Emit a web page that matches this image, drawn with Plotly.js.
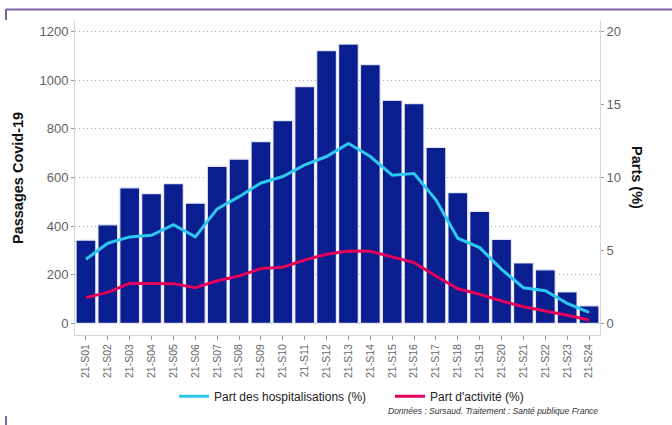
<!DOCTYPE html>
<html>
<head>
<meta charset="utf-8">
<script src="https://cdn.plot.ly/plotly-3.0.1.min.js"></script>
<style>html,body{margin:0;padding:0;background:#fff;}#chart{width:672px;height:425px;}</style>
</head>
<body>
<div id="chart"></div>
<script>
const weeks = ["21-S01","21-S02","21-S03","21-S04","21-S05","21-S06","21-S07","21-S08","21-S09","21-S10","21-S11","21-S12","21-S13","21-S14","21-S15","21-S16","21-S17","21-S18","21-S19","21-S20","21-S21","21-S22","21-S23","21-S24"];
const passages = [342,405,557,533,574,494,645,675,747,833,973,1121,1148,1064,917,903,723,537,460,345,248,220,129,72];
const partHosp = [4.39,5.49,5.92,6.03,6.76,5.92,7.84,8.68,9.62,10.06,10.86,11.43,12.32,11.43,10.15,10.26,8.46,5.83,5.19,3.70,2.44,2.24,1.37,0.75];
const partActiv = [1.76,2.12,2.74,2.74,2.72,2.44,2.92,3.24,3.75,3.84,4.34,4.73,4.96,4.94,4.53,4.16,3.24,2.37,1.99,1.53,1.14,0.86,0.55,0.23];

const FONT = "Liberation Sans, Arial, sans-serif";
const PURPLE = "#7e62a6";

const traces = [
  {type:"bar", x:weeks, y:passages, name:"Passages", showlegend:false,
   marker:{color:"#0a1f8f", line:{color:"rgba(235,235,250,0.9)", width:1.2}}, width:0.9},
  {type:"scatter", mode:"lines", x:weeks, y:partHosp, yaxis:"y2", name:"Part des hospitalisations (%)",
   line:{color:"#2cc8f2", width:3}},
  {type:"scatter", mode:"lines", x:weeks, y:partActiv, yaxis:"y2", name:"Part d'activité (%)",
   line:{color:"#e2005c", width:3}}
];

const layout = {
  width:672, height:425,
  margin:{l:75, r:72, t:21, b:90},
  paper_bgcolor:"#fff", plot_bgcolor:"#fff",
  font:{family:FONT, color:"#5a5a5a"},
  bargap:0.1,
  xaxis:{type:"category", range:[-0.5,23.5], tickangle:-90, ticks:"outside", ticklen:4, tickcolor:"#999",
         tickfont:{size:10.5, color:"#666"}, showline:true, linecolor:"#d6d6d6", linewidth:1,
         showgrid:false, zeroline:false, fixedrange:true},
  yaxis:{range:[-48,1243], tickvals:[0,200,400,600,800,1000,1200], ticks:"outside", ticklen:3, tickcolor:"#999",
         tickfont:{size:13, color:"#5f5f5f"}, showline:true, linecolor:"#d6d6d6", linewidth:1,
         showgrid:true, gridcolor:"#a8a8a8", griddash:"1px,3px", gridwidth:1, zeroline:false},
  yaxis2:{overlaying:"y", side:"right", range:[-0.8,20.7167], tickvals:[0,5,10,15,20], ticks:"outside", ticklen:3,
          tickcolor:"#999", tickfont:{size:13, color:"#5f5f5f"}, showline:true, linecolor:"#d6d6d6", linewidth:1,
          showgrid:false, zeroline:false},
  showlegend:true,
  legend:{orientation:"h", x:(174-75)/525, xanchor:"left", y:-0.195, yanchor:"middle", font:{size:12, color:"#222"},
          bgcolor:"rgba(0,0,0,0)", entrywidth:171, entrywidthmode:"pixels"},
  annotations:[
    {text:"<b>Passages Covid-19</b>", xref:"paper", yref:"paper", x:(18-75)/525, y:(335-178)/314, textangle:-90,
     showarrow:false, font:{size:14.5, color:"#111"}, xanchor:"center", yanchor:"middle"},
    {text:"<b>Parts (%)</b>", xref:"paper", yref:"paper", x:(637-75)/525, y:(335-177)/314, textangle:90,
     showarrow:false, font:{size:14.5, color:"#111"}, xanchor:"center", yanchor:"middle"},
    {text:"<i>Données : Sursaud. Traitement : Santé publique France</i>", xref:"paper", yref:"paper",
     x:(600-75)/525, y:(335-411)/314, xanchor:"right", yanchor:"middle", showarrow:false,
     font:{size:8.5, color:"#333"}}
  ],
  shapes:[
    {type:"line", xref:"paper", yref:"paper", x0:(6-75)/525, x1:(672-75)/525, y0:(335-9.5)/314, y1:(335-9.5)/314,
     line:{color:PURPLE, width:2}},
    {type:"line", xref:"paper", yref:"paper", x0:(6-75)/525, x1:(6-75)/525, y0:(335-9)/314, y1:(335-20)/314,
     line:{color:PURPLE, width:2}},
    {type:"line", xref:"paper", yref:"paper", x0:(6-75)/525, x1:(6-75)/525, y0:(335-416)/314, y1:(335-425)/314,
     line:{color:PURPLE, width:2}}
  ]
};

Plotly.newPlot("chart", traces, layout, {displayModeBar:false, staticPlot:true});
</script>
</body>
</html>
